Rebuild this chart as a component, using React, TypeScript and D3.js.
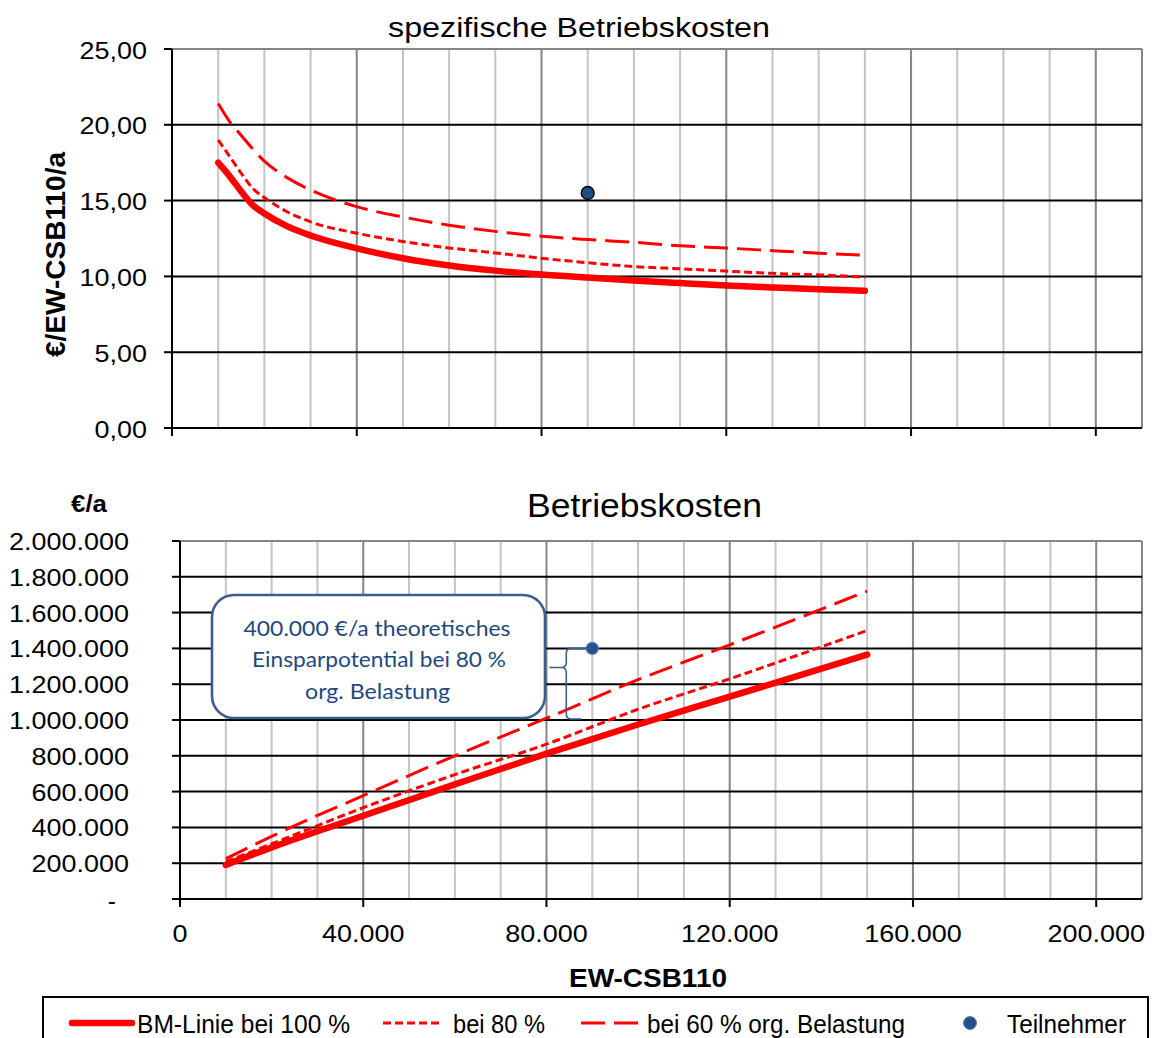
import React from "react";
import * as d3 from "d3";

// ---------- data ----------
const ewTop = [10000, 12500, 15000, 17500, 20000, 25000, 30000, 40000, 50000, 60000, 70000, 80000, 90000, 100000, 110000, 120000, 130000, 140000, 150000];
const spez100 = [17.5, 16.6, 15.6, 14.7, 14.15, 13.3, 12.7, 11.85, 11.2, 10.72, 10.38, 10.12, 9.92, 9.73, 9.56, 9.4, 9.27, 9.15, 9.05];
const spez80 = [19.0, 17.9, 16.8, 15.8, 15.2, 14.25, 13.6, 12.85, 12.3, 11.88, 11.55, 11.2, 10.9, 10.65, 10.5, 10.35, 10.2, 10.1, 9.95];
const spez60 = [21.4, 20.2, 19.3, 18.4, 17.6, 16.5, 15.7, 14.6, 13.92, 13.38, 12.97, 12.65, 12.43, 12.25, 12.02, 11.87, 11.7, 11.53, 11.4];

const ewBottom = [10000, 20000, 40000, 60000, 80000, 100000, 120000, 150000];
const kosten100 = [190000, 288000, 465000, 640000, 812000, 975000, 1130000, 1365000];
const kosten80 = [208000, 308000, 510000, 695000, 865000, 1060000, 1230000, 1500000];
const kosten60 = [225000, 350000, 578000, 800000, 1010000, 1225000, 1420000, 1720000];

const teilnehmerEW = 90000;
const teilnehmerSpez = 15.5;
const teilnehmerKosten = 1400000;
const kosten80BeiTeilnehmer = 1000000;

const topTicksY = [0, 5, 10, 15, 20, 25];
const bottomTicksY = [0, 200000, 400000, 600000, 800000, 1000000, 1200000, 1400000, 1600000, 1800000, 2000000];
const ticksX = [0, 40000, 80000, 120000, 160000, 200000];
const minorX = d3.range(10000, 210001, 10000);

const titleTop = "spezifische Betriebskosten";
const titleBottom = "Betriebskosten";
const yTitleTop = "€/EW-CSB110/a";
const yTitleBottom = "€/a";
const xTitle = "EW-CSB110";
const legendLabels = ["BM-Linie bei 100 %", "bei 80 %", "bei 60 % org. Belastung", "Teilnehmer"];
const annotationLines = ["400.000 €/a theoretisches", "Einsparpotential bei 80 %", "org. Belastung"];

// ---------- helpers ----------
const de = d3.formatLocale({ decimal: ",", thousands: ".", grouping: [3], currency: ["", " €"] });
const fmt2 = de.format(",.2f");
const fmt0 = de.format(",.0f");

const ARIAL = "'Liberation Sans', Arial, sans-serif";
const CALIBRI = "Lato, 'Open Sans', sans-serif";
const RED = "#ff0000";

type TProps = {
  x: number; y: number; size: number; anchor?: string; bold?: boolean; fill?: string;
  family?: string; sx?: number; rotate?: number; width?: number; children: React.ReactNode;
};
function T({ x, y, size, anchor = "start", bold = false, fill = "#000", family = ARIAL, sx = 1, rotate = 0, width, children }: TProps) {
  const tf = `translate(${x},${y})` + (rotate ? ` rotate(${rotate})` : "") + (sx !== 1 ? ` scale(${sx},1)` : "");
  const extra: any = width ? { textLength: width, lengthAdjust: "spacingAndGlyphs" } : {};
  return (
    <text transform={tf} textAnchor={anchor} fontFamily={family} fontSize={size} fontWeight={bold ? "bold" : "normal"} fill={fill} {...extra}>
      {children}
    </text>
  );
}

const dash80 = "8,4";
const dash60 = "24,9";

function Grid({ x, y, hTicks, hBorder }: { x: d3.ScaleLinear<number, number>; y: d3.ScaleLinear<number, number>; hTicks: number[]; hBorder: number }) {
  const [x0, x1] = x.range();
  const [y0, y1] = y.range();
  return (
    <g>
      {minorX.map((v) => {
        const major = v % 40000 === 0 || v === 210000;
        return <line key={"v" + v} x1={x(v)} x2={x(v)} y1={y0} y2={y1} stroke={major ? "#858585" : "#c4c4c4"} strokeWidth={2} />;
      })}
      {hTicks.filter((v) => v > 0 && v < hBorder).map((v) => (
        <line key={"h" + v} x1={x0} x2={x1} y1={y(v)} y2={y(v)} stroke="#000" strokeWidth={2} />
      ))}
      <line x1={x0} x2={x1} y1={y(hBorder)} y2={y(hBorder)} stroke="#858585" strokeWidth={2} />
      <line x1={x0} x2={x0} y1={y1} y2={y0 + 8} stroke="#000" strokeWidth={2} />
      <line x1={x0 - 8} x2={x1} y1={y0} y2={y0} stroke="#000" strokeWidth={2} />
      {hTicks.map((v) => (
        <line key={"yt" + v} x1={x0 - 8} x2={x0} y1={y(v)} y2={y(v)} stroke="#000" strokeWidth={2} />
      ))}
      {ticksX.map((v) => (
        <line key={"xt" + v} x1={x(v)} x2={x(v)} y1={y0} y2={y0 + 8} stroke="#000" strokeWidth={2} />
      ))}
    </g>
  );
}

export default function App() {
  const xT = d3.scaleLinear().domain([0, 210000]).range([172, 1142]);
  const yT = d3.scaleLinear().domain([0, 25]).range([428, 49]);
  const xB = d3.scaleLinear().domain([0, 210000]).range([180, 1142]);
  const yB = d3.scaleLinear().domain([0, 2000000]).range([899, 541]);

  const lineT = (vals: number[]) =>
    d3.line<number>().x((_, i) => xT(ewTop[i])).y((d) => yT(d)).curve(d3.curveMonotoneX)(vals) || "";
  const lineB = (vals: number[]) =>
    d3.line<number>().x((_, i) => xB(ewBottom[i])).y((d) => yB(d)).curve(d3.curveMonotoneX)(vals) || "";

  const bx = xB(teilnehmerEW) - 26;
  const byTop = yB(teilnehmerKosten);
  const byBot = yB(kosten80BeiTeilnehmer) - 1;
  const byMid = byTop + (byBot - byTop) * 0.27;
  const r = 5;
  const bracePath = `M ${xB(teilnehmerEW)} ${byTop} L ${bx + r} ${byTop} Q ${bx} ${byTop} ${bx} ${byTop + r} L ${bx} ${byMid - r} Q ${bx} ${byMid} ${bx - r} ${byMid} L ${bx - 17} ${byMid} M ${bx - r} ${byMid} Q ${bx} ${byMid} ${bx} ${byMid + r} L ${bx} ${byBot - r} Q ${bx} ${byBot} ${bx + r} ${byBot} L ${bx + 15} ${byBot}`;

  const legY = 1023;

  return (
    <svg width={1152} height={1038} style={{ position: "absolute", left: 0, top: 0, background: "#fff" }}>
      <rect x={0} y={0} width={1152} height={1038} fill="#fff" />

      {/* ---------- top chart ---------- */}
      <T x={579} y={37} size={27.5} anchor="middle" width={382}>{titleTop}</T>
      <Grid x={xT} y={yT} hTicks={topTicksY} hBorder={25} />
      {topTicksY.map((v) => (
        <T key={"tl" + v} x={147} y={yT(v) + 9.5} size={24.5} anchor="end" sx={1.1}>{fmt2(v)}</T>
      ))}
      <T x={65} y={254.5} size={27.5} anchor="middle" bold rotate={-90} width={205}>{yTitleTop}</T>

      <path d={lineT(spez60)} fill="none" stroke={RED} strokeWidth={3} strokeDasharray={dash60} />
      <path d={lineT(spez80)} fill="none" stroke={RED} strokeWidth={3} strokeDasharray={dash80} />
      <path d={lineT(spez100)} fill="none" stroke={RED} strokeWidth={6.5} strokeLinecap="round" strokeLinejoin="round" />
      <circle cx={xT(teilnehmerEW)} cy={yT(teilnehmerSpez)} r={6.5} fill="#1f4e82" stroke="#000" strokeWidth={1.3} />

      {/* ---------- bottom chart ---------- */}
      <T x={644.5} y={517} size={33.5} anchor="middle" width={235}>{titleBottom}</T>
      <T x={89} y={512} size={23} anchor="middle" bold width={36}>{yTitleBottom}</T>
      <Grid x={xB} y={yB} hTicks={bottomTicksY} hBorder={2000000} />
      {bottomTicksY.map((v) =>
        v === 0 ? (
          <T key="bl0" x={116} y={yB(v) + 10} size={24.5} anchor="end">-</T>
        ) : (
          <T key={"bl" + v} x={129} y={yB(v) + 9} size={24.5} anchor="end" sx={1.1}>{fmt0(v)}</T>
        )
      )}
      {ticksX.map((v) => (
        <T key={"xl" + v} x={xB(v)} y={942} size={24.5} anchor="middle" sx={1.1}>{fmt0(v)}</T>
      ))}
      <T x={648} y={987} size={25} anchor="middle" bold width={158}>{xTitle}</T>

      <path d={lineB(kosten60)} fill="none" stroke={RED} strokeWidth={3} strokeDasharray={dash60} />
      <path d={lineB(kosten80)} fill="none" stroke={RED} strokeWidth={3} strokeDasharray={dash80} />
      <path d={lineB(kosten100)} fill="none" stroke={RED} strokeWidth={6.5} strokeLinecap="round" strokeLinejoin="round" />
      <circle cx={xB(teilnehmerEW)} cy={yB(teilnehmerKosten)} r={6} fill="#24508a" stroke="#4f81bd" strokeWidth={1.2} />

      {/* annotation */}
      <rect x={212} y={595} width={333} height={123} rx={22} ry={22} fill="#fff" stroke="#3b5e8c" strokeWidth={2.6} />
      <T x={377} y={636} size={21.5} anchor="middle" family={CALIBRI} fill="#1f497d" width={267}>{annotationLines[0]}</T>
      <T x={379} y={667} size={21.5} anchor="middle" family={CALIBRI} fill="#1f497d" width={254}>{annotationLines[1]}</T>
      <T x={377.5} y={699} size={21.5} anchor="middle" family={CALIBRI} fill="#1f497d" width={145}>{annotationLines[2]}</T>
      <path d={bracePath} fill="none" stroke="#3b5e8c" strokeWidth={1.6} />

      {/* ---------- legend ---------- */}
      <rect x={43} y={997} width={1105} height={60} fill="#fff" stroke="#000" strokeWidth={2} />
      <line x1={72} x2={132} y1={legY} y2={legY} stroke={RED} strokeWidth={6.5} strokeLinecap="round" />
      <T x={137} y={1032.5} size={26} width={213}>{legendLabels[0]}</T>
      <line x1={383} x2={443} y1={legY} y2={legY} stroke={RED} strokeWidth={3} strokeDasharray={dash80} />
      <T x={453} y={1032.5} size={26} width={92}>{legendLabels[1]}</T>
      <line x1={581} x2={638} y1={legY} y2={legY} stroke={RED} strokeWidth={3} strokeDasharray={dash60} />
      <T x={647} y={1032.5} size={26} width={258}>{legendLabels[2]}</T>
      <circle cx={970} cy={legY} r={6.5} fill="#24508a" stroke="#4f81bd" strokeWidth={1} />
      <T x={1007} y={1032.5} size={26} width={119}>{legendLabels[3]}</T>
    </svg>
  );
}
